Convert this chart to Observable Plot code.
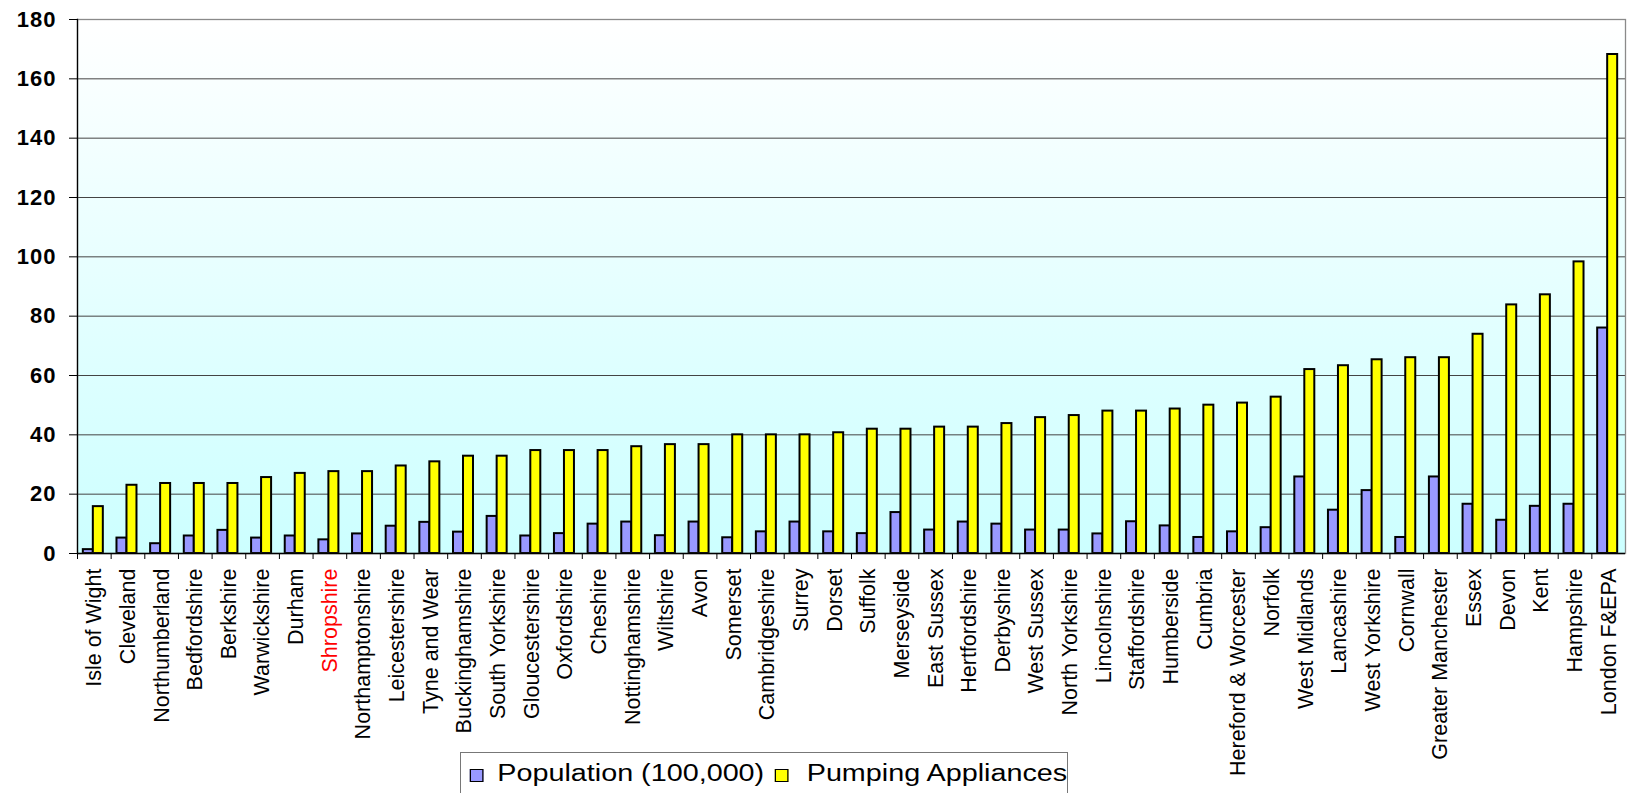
<!DOCTYPE html>
<html>
<head>
<meta charset="utf-8">
<script src="https://cdn.jsdelivr.net/npm/d3@7"></script>
<script src="https://cdn.jsdelivr.net/npm/@observablehq/plot@0.6"></script>
<style>
  html, body { margin: 0; padding: 0; background: #fff; }
  #wrap { position: relative; width: 1629px; height: 793px; overflow: hidden; font-family: "Liberation Sans", Arial, sans-serif; }
  #wrap svg { font-family: "Liberation Sans", Arial, sans-serif; }
  #wrap svg g[aria-label="y-axis tick label"] text { letter-spacing: 1px; }
  #legend { position: absolute; left: 460px; top: 752px; width: 608px; height: 60px; border: 1px solid #777; background: #fff; box-sizing: border-box; }
  #legend .inner { display: flex; align-items: center; transform: scaleX(1.25); transform-origin: 0 0; padding-left: 7px; height: 40px; font-size: 23px; color: #000; white-space: nowrap; }
  #legend .sw { display: inline-block; width: 11px; height: 13px; border: 1px solid #000; box-sizing: border-box; margin-top: 4px; }
</style>
</head>
<body>
<div id="wrap"></div>
<script>
const counties = ["Isle of Wight","Cleveland","Northumberland","Bedfordshire","Berkshire","Warwickshire","Durham","Shropshire","Northamptonshire","Leicestershire","Tyne and Wear","Buckinghamshire","South Yorkshire","Gloucestershire","Oxfordshire","Cheshire","Nottinghamshire","Wiltshire","Avon","Somerset","Cambridgeshire","Surrey","Dorset","Suffolk","Merseyside","East Sussex","Hertfordshire","Derbyshire","West Sussex","North Yorkshire","Lincolnshire","Staffordshire","Humberside","Cumbria","Hereford & Worcester","Norfolk","West Midlands","Lancashire","West Yorkshire","Cornwall","Greater Manchester","Essex","Devon","Kent","Hampshire","London F&EPA"];
const population = [1.3,5.2,3.3,5.9,7.8,5.2,5.9,4.6,6.6,9.2,10.5,7.2,12.5,5.9,6.7,9.9,10.6,6.0,10.6,5.3,7.3,10.6,7.3,6.7,13.8,7.9,10.6,9.9,7.9,7.9,6.6,10.7,9.3,5.4,7.3,8.7,25.8,14.6,21.2,5.4,25.8,16.6,11.2,15.9,16.6,76.0];
const pumping = [15.8,23,23.6,23.6,23.6,25.6,27,27.6,27.6,29.5,30.9,32.8,32.8,34.7,34.7,34.7,36,36.7,36.7,40,40,40,40.7,41.9,41.9,42.6,42.6,43.8,45.8,46.5,48,48,48.7,50,50.7,52.7,62,63.3,65.3,66,66,73.9,83.8,87.2,98.3,168.2];
const yTicks = [0,20,40,60,80,100,120,140,160,180];
const highlight = "Shropshire";
const seriesNames = ["Population (100,000)", "Pumping Appliances"];
const seriesColors = ["#9999ff", "#ffff00"];

const W = 1629, H = 793, mL = 77, mR = 4, mT = 19, mB = 240;
const step = (W - mL - mR) / counties.length;
const barW = 10;   // width of each bar in px
const shift = 1;   // pair sits slightly left of band centre

const rowsPop = counties.map((c, i) => ({county: c, value: population[i]}));
const rowsPump = counties.map((c, i) => ({county: c, value: pumping[i]}));

const defs = () => {
  const d = d3.create("svg:defs");
  const g = d.append("linearGradient").attr("id", "bgGrad").attr("x1", 0).attr("x2", 0).attr("y1", 0).attr("y2", 1);
  g.append("stop").attr("offset", "0%").attr("stop-color", "#ffffff");
  g.append("stop").attr("offset", "100%").attr("stop-color", "#ccffff");
  return d.node();
};

const chart = Plot.plot({
  width: W, height: H,
  marginLeft: mL, marginRight: mR, marginTop: mT, marginBottom: mB,
  style: {background: "#fff", fontFamily: "Liberation Sans, Arial, sans-serif", overflow: "visible"},
  x: {type: "band", domain: counties, padding: 0, round: false},
  y: {domain: [0, 180]},
  marks: [
    defs,
    Plot.frame({fill: "url(#bgGrad)", stroke: null}),
    Plot.gridY(yTicks.filter(v => v > 0 && v < 180), {stroke: "#444", strokeOpacity: 1, strokeWidth: 1}),
    Plot.barY(rowsPop, {x: "county", y: "value", fill: seriesColors[0], stroke: "#000", strokeWidth: 2,
      insetLeft: step / 2 - barW - shift, insetRight: step / 2 + shift}),
    Plot.barY(rowsPump, {x: "county", y: "value", fill: seriesColors[1], stroke: "#000", strokeWidth: 2,
      insetLeft: step / 2 - shift, insetRight: step / 2 - barW + shift}),
    Plot.frame({stroke: "#8a8a8a", strokeWidth: 1.3}),
    Plot.frame({anchor: "left", stroke: "#000", strokeWidth: 1.3}),
    Plot.ruleY([0], {stroke: "#000", strokeWidth: 1.3}),
    Plot.axisY({ticks: yTicks, tickSize: 8, tickPadding: 13, fontSize: 22, fontWeight: "bold", stroke: "#000", color: "#000", label: null}),
    Plot.axisX({tickSize: 6, tickFormat: () => "", dx: -step / 2, stroke: "#000", label: null}),
    Plot.text(counties, {x: d => d, frameAnchor: "bottom", rotate: -90, textAnchor: "end", lineAnchor: "middle", dy: 15, fontSize: 21.5, fill: d => d === highlight ? "#ff0000" : "#000"})
  ]
});

const wrap = document.getElementById("wrap");
wrap.appendChild(chart);

const legend = document.createElement("div");
legend.id = "legend";
const inner = document.createElement("div");
inner.className = "inner";
seriesNames.forEach((name, i) => {
  const sw = document.createElement("span");
  sw.className = "sw";
  sw.style.background = seriesColors[i];
  sw.style.marginLeft = i === 0 ? "0px" : "8px";
  sw.style.marginRight = i === 0 ? "11px" : "15px";
  const t = document.createElement("span");
  t.textContent = name;
  inner.appendChild(sw);
  inner.appendChild(t);
});
legend.appendChild(inner);
wrap.appendChild(legend);
</script>
</body>
</html>
